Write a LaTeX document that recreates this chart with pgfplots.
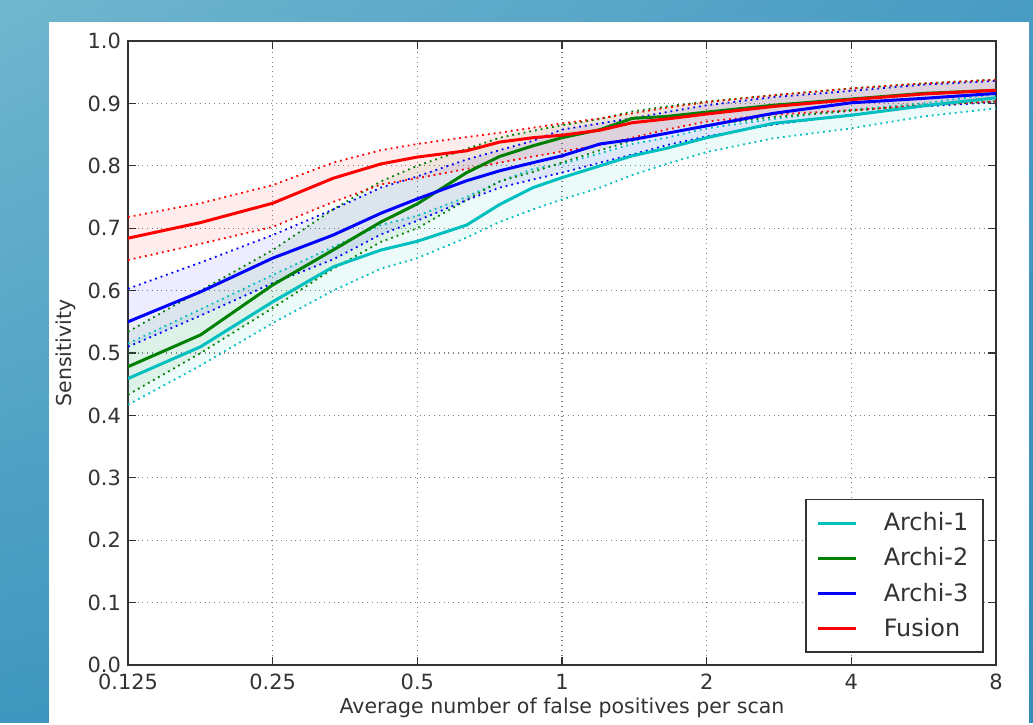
\documentclass[border=0pt]{standalone}
\usepackage{fontspec}
\setmainfont{DejaVu Sans}
\usepackage{pgfplots}
\usepackage{pgfplotstable}
\pgfplotsset{compat=1.18}
\usepgfplotslibrary{fillbetween}
\usetikzlibrary{shadings}

\definecolor{mcyan}{rgb}{0,0.75,0.75}
\definecolor{mgreen}{rgb}{0,0.5,0}
\definecolor{mblue}{rgb}{0,0,1}
\definecolor{mred}{rgb}{1,0,0}
\definecolor{axgray}{rgb}{0.2,0.2,0.2}
\definecolor{bgA}{RGB}{112,182,206}
\definecolor{bgB}{RGB}{72,155,195}
\definecolor{bgC}{RGB}{62,150,190}
\definecolor{bgD}{RGB}{52,140,185}

% x = false positives per scan, m = mean, u / l = band limits
\pgfplotstableread{
x     m     u     l
0.125 0.459 0.515 0.417
0.177 0.510 0.570 0.480
0.25  0.582 0.625 0.548
0.334 0.638 0.670 0.600
0.42  0.665 0.705 0.635
0.5   0.679 0.720 0.652
0.633 0.705 0.750 0.685
0.742 0.738 0.775 0.710
0.87  0.765 0.795 0.730
1     0.781 0.803 0.746
1.2   0.800 0.820 0.765
1.4   0.816 0.835 0.785
1.65  0.828 0.845 0.803
2     0.845 0.860 0.822
2.75  0.868 0.875 0.844
4     0.881 0.890 0.860
5.64  0.896 0.900 0.879
8     0.909 0.915 0.892
}\archione

\pgfplotstableread{
x     m     u     l
0.125 0.478 0.534 0.433
0.177 0.529 0.600 0.500
0.25  0.609 0.665 0.572
0.334 0.665 0.730 0.635
0.42  0.710 0.775 0.678
0.5   0.739 0.800 0.700
0.633 0.789 0.827 0.745
0.742 0.815 0.845 0.775
0.87  0.832 0.856 0.790
1     0.845 0.865 0.805
1.2   0.858 0.875 0.825
1.4   0.876 0.887 0.840
1.65  0.879 0.895 0.852
2     0.886 0.903 0.865
2.75  0.897 0.913 0.878
4     0.907 0.924 0.888
5.64  0.916 0.932 0.897
8     0.921 0.938 0.903
}\architwo

\pgfplotstableread{
x     m     u     l
0.125 0.550 0.603 0.510
0.177 0.598 0.645 0.560
0.25  0.652 0.689 0.612
0.334 0.689 0.730 0.650
0.42  0.724 0.765 0.690
0.5   0.747 0.783 0.712
0.633 0.776 0.810 0.745
0.742 0.792 0.825 0.765
0.87  0.805 0.840 0.778
1     0.816 0.858 0.789
1.2   0.835 0.868 0.805
1.4   0.842 0.876 0.818
1.65  0.852 0.886 0.833
2     0.864 0.897 0.847
2.75  0.884 0.910 0.866
4     0.901 0.920 0.882
5.64  0.908 0.930 0.895
8     0.916 0.936 0.902
}\archithree

\pgfplotstableread{
x     m     u     l
0.125 0.684 0.718 0.649
0.177 0.709 0.740 0.675
0.25  0.740 0.769 0.702
0.334 0.780 0.805 0.742
0.42  0.803 0.825 0.770
0.5   0.814 0.835 0.780
0.633 0.824 0.846 0.795
0.742 0.838 0.853 0.805
0.87  0.845 0.861 0.815
1     0.849 0.868 0.823
1.2   0.857 0.876 0.833
1.4   0.869 0.884 0.845
1.65  0.875 0.893 0.858
2     0.883 0.902 0.871
2.75  0.895 0.913 0.882
4     0.906 0.924 0.889
5.64  0.915 0.932 0.897
8     0.921 0.938 0.903
}\fusion

\begin{document}
\begin{tikzpicture}
\pgfplotsset{set layers}
\begin{pgfonlayer}{axis background}
\shade[upper left=bgA, upper right=bgB, lower left=bgC, lower right=bgD] (0,0) rectangle (516.5bp,361.5bp);
\fill[white] (24.5bp,0) rectangle (514.5bp,350.5bp);
\end{pgfonlayer}

\begin{axis}[
    at={(64bp,29bp)}, anchor=south west,
    scale only axis, width=434bp, height=312bp,
    xmode=log, log basis x=2,
    xmin=0.125, xmax=8, ymin=0, ymax=1,
    xtick={0.125,0.25,0.5,1,2,4,8},
    xticklabels={0.125,0.25,0.5,1,2,4,8},
    ytick={0,0.1,...,1.01},
    yticklabel style={/pgf/number format/.cd, fixed, fixed zerofill, precision=1},
    /pgf/number format/assume math mode=true,
    tick label style={font=\fontsize{10.5}{12}\selectfont, text=axgray},
    xticklabel style={yshift=-1bp},
    xlabel={Average number of false positives per scan},
    ylabel={Sensitivity},
    label style={font=\fontsize{10.3}{12}\selectfont, text=axgray},
    xlabel style={yshift=3bp},
    ylabel style={yshift=-1bp},
    axis line style={axgray, line width=0.9bp},
    tick style={axgray, line width=0.6bp},
    tick align=inside, major tick length=4bp,
    grid=major,
    grid style={dotted, gray, line width=0.6bp},
    legend cell align=left,
    legend style={at={(axis description cs:1,0)}, anchor=south east,
        xshift=-6bp, yshift=6bp, draw=axgray, line width=0.8bp,
        font=\fontsize{12}{14}\selectfont, text=axgray,
        inner xsep=5.5bp, inner ysep=4.5bp, row sep=3bp},
    legend image code/.code={\draw[#1, line width=1.5bp] (0bp,0bp) -- (19bp,0bp); \path (30bp,0bp);},
]
% bands
\addplot[name path=cu, mcyan, dotted, line width=0.9bp, forget plot] table[x=x, y=u] {\archione};
\addplot[name path=cl, mcyan, dotted, line width=0.9bp, forget plot] table[x=x, y=l] {\archione};
\addplot[mcyan, fill opacity=0.07, draw=none, forget plot] fill between[of=cu and cl];
\addplot[name path=gu, mgreen, dotted, line width=0.9bp, forget plot] table[x=x, y=u] {\architwo};
\addplot[name path=gl, mgreen, dotted, line width=0.9bp, forget plot] table[x=x, y=l] {\architwo};
\addplot[mgreen, fill opacity=0.07, draw=none, forget plot] fill between[of=gu and gl];
\addplot[name path=bu, mblue, dotted, line width=0.9bp, forget plot] table[x=x, y=u] {\archithree};
\addplot[name path=bl, mblue, dotted, line width=0.9bp, forget plot] table[x=x, y=l] {\archithree};
\addplot[mblue, fill opacity=0.07, draw=none, forget plot] fill between[of=bu and bl];
\addplot[name path=ru, mred, dotted, line width=0.9bp, forget plot] table[x=x, y=u] {\fusion};
\addplot[name path=rl, mred, dotted, line width=0.9bp, forget plot] table[x=x, y=l] {\fusion};
\addplot[mred, fill opacity=0.07, draw=none, forget plot] fill between[of=ru and rl];
% means
\addplot[mcyan, line width=1.5bp] table[x=x, y=m] {\archione};
\addplot[mgreen, line width=1.5bp] table[x=x, y=m] {\architwo};
\addplot[mblue, line width=1.5bp] table[x=x, y=m] {\archithree};
\addplot[mred, line width=1.5bp] table[x=x, y=m] {\fusion};
\legend{Archi-1, Archi-2, Archi-3, Fusion}
\end{axis}
\end{tikzpicture}
\end{document}
